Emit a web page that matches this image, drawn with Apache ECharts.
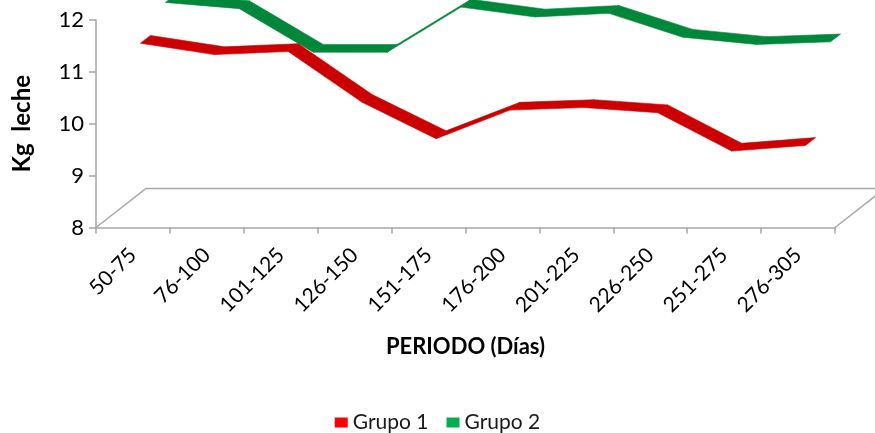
<!DOCTYPE html>
<html>
<head>
<meta charset="utf-8">
<script src="https://cdn.jsdelivr.net/npm/echarts@6/dist/echarts.min.js"></script>
<style>
html,body{margin:0;padding:0;background:#fff;}
#chart{width:875px;height:433px;}
</style>
</head>
<body>
<div id="chart"></div>
<script>
const categories = ['50-75','76-100','101-125','126-150','151-175','176-200','201-225','226-250','251-275','276-305'];
const grupo1 = [11.44, 11.22, 11.28, 10.30, 9.60, 10.15, 10.20, 10.10, 9.36, 9.47];
const grupo2 = [11.85, 11.73, 10.89, 10.89, 11.76, 11.57, 11.64, 11.18, 11.04, 11.09];
const yMin = 8, yMax = 12, yStep = 1;
const seriesNames = ['Grupo 1', 'Grupo 2'];

const FONT = 'Lato';
const DEPTH = [50, -39];   // oblique depth vector of the 3D floor (pixels)

function toData(values) { return values.map((v, i) => [i, v]); }

function ribbon(values, d0, d1, color) {
  return function (params, api) {
    const i = params.dataIndex;
    if (i >= values.length - 1) return null;
    const a = api.coord([i, values[i]]);
    const b = api.coord([i + 1, values[i + 1]]);
    const f = (p, d) => [p[0] + DEPTH[0] * d, p[1] + DEPTH[1] * d];
    return {
      type: 'polygon',
      shape: { points: [f(a, d0), f(b, d0), f(b, d1), f(a, d1)] },
      style: { fill: color, stroke: color, lineWidth: 0.6 }
    };
  };
}

function floor(params, api) {
  const bw = api.size([1, 0])[0];
  const p0 = api.coord([0, yMin]);
  const pN = api.coord([categories.length - 1, yMin]);
  const left = p0[0] - bw / 2, right = pN[0] + bw / 2, y = p0[1];
  return {
    type: 'polyline',
    shape: { points: [[left, y], [left + DEPTH[0], y + DEPTH[1]], [right + DEPTH[0], y + DEPTH[1]], [right, y]] },
    style: { stroke: '#A6A6A6', lineWidth: 1.5, fill: null }
  };
}

const chart = echarts.init(document.getElementById('chart'));
chart.setOption({
  animation: false,
  backgroundColor: '#ffffff',
  grid: { left: 96, right: 40, top: 20, bottom: 205.5 },
  legend: {
    data: seriesNames,
    top: 407,
    left: 'center',
    icon: 'rect',
    itemWidth: 13,
    itemHeight: 10,
    itemGap: 18,
    textStyle: { fontFamily: FONT, fontSize: 21, color: '#1a1a1a' }
  },
  xAxis: {
    type: 'category',
    data: categories,
    boundaryGap: true,
    name: 'PERIODO (Días)',
    nameLocation: 'middle',
    nameGap: 108,
    nameTextStyle: { fontFamily: FONT, fontSize: 22, fontWeight: 'bold', color: '#000' },
    axisLine: { lineStyle: { color: '#A6A6A6', width: 1.5 } },
    axisTick: { show: true, length: 6, lineStyle: { color: '#A6A6A6', width: 1.5 } },
    axisLabel: { rotate: 45, margin: 24, fontFamily: FONT, fontSize: 21, color: '#000' },
    splitLine: { show: false }
  },
  yAxis: {
    type: 'value',
    min: yMin, max: yMax, interval: yStep,
    name: 'Kg  leche',
    nameLocation: 'middle',
    nameRotate: 90,
    nameGap: 62,
    nameTextStyle: { fontFamily: FONT, fontSize: 24, fontWeight: 'bold', color: '#000' },
    axisLine: { show: true, lineStyle: { color: '#A6A6A6', width: 1.5 } },
    axisTick: { show: true, length: 7, lineStyle: { color: '#A6A6A6', width: 1.5 } },
    axisLabel: { margin: 12, fontFamily: FONT, fontSize: 22, color: '#000' },
    splitLine: { show: false }
  },
  series: [
    {
      name: 'floor', type: 'custom', renderItem: floor, data: [[0, yMin]],
      silent: true, clip: false, z: 1, legendHoverLink: false
    },
    {
      name: 'Grupo 2', type: 'custom', data: toData(grupo2),
      renderItem: ribbon(grupo2, 0.65, 0.85, '#00873A'),
      itemStyle: { color: '#00B050' }, clip: false, z: 2,
      encode: { x: 0, y: 1 }
    },
    {
      name: 'Grupo 1', type: 'custom', data: toData(grupo1),
      renderItem: ribbon(grupo1, 0.15, 0.35, '#CC0000'),
      itemStyle: { color: '#FF0000' }, clip: false, z: 3,
      encode: { x: 0, y: 1 }
    }
  ]
});
</script>
</body>
</html>
